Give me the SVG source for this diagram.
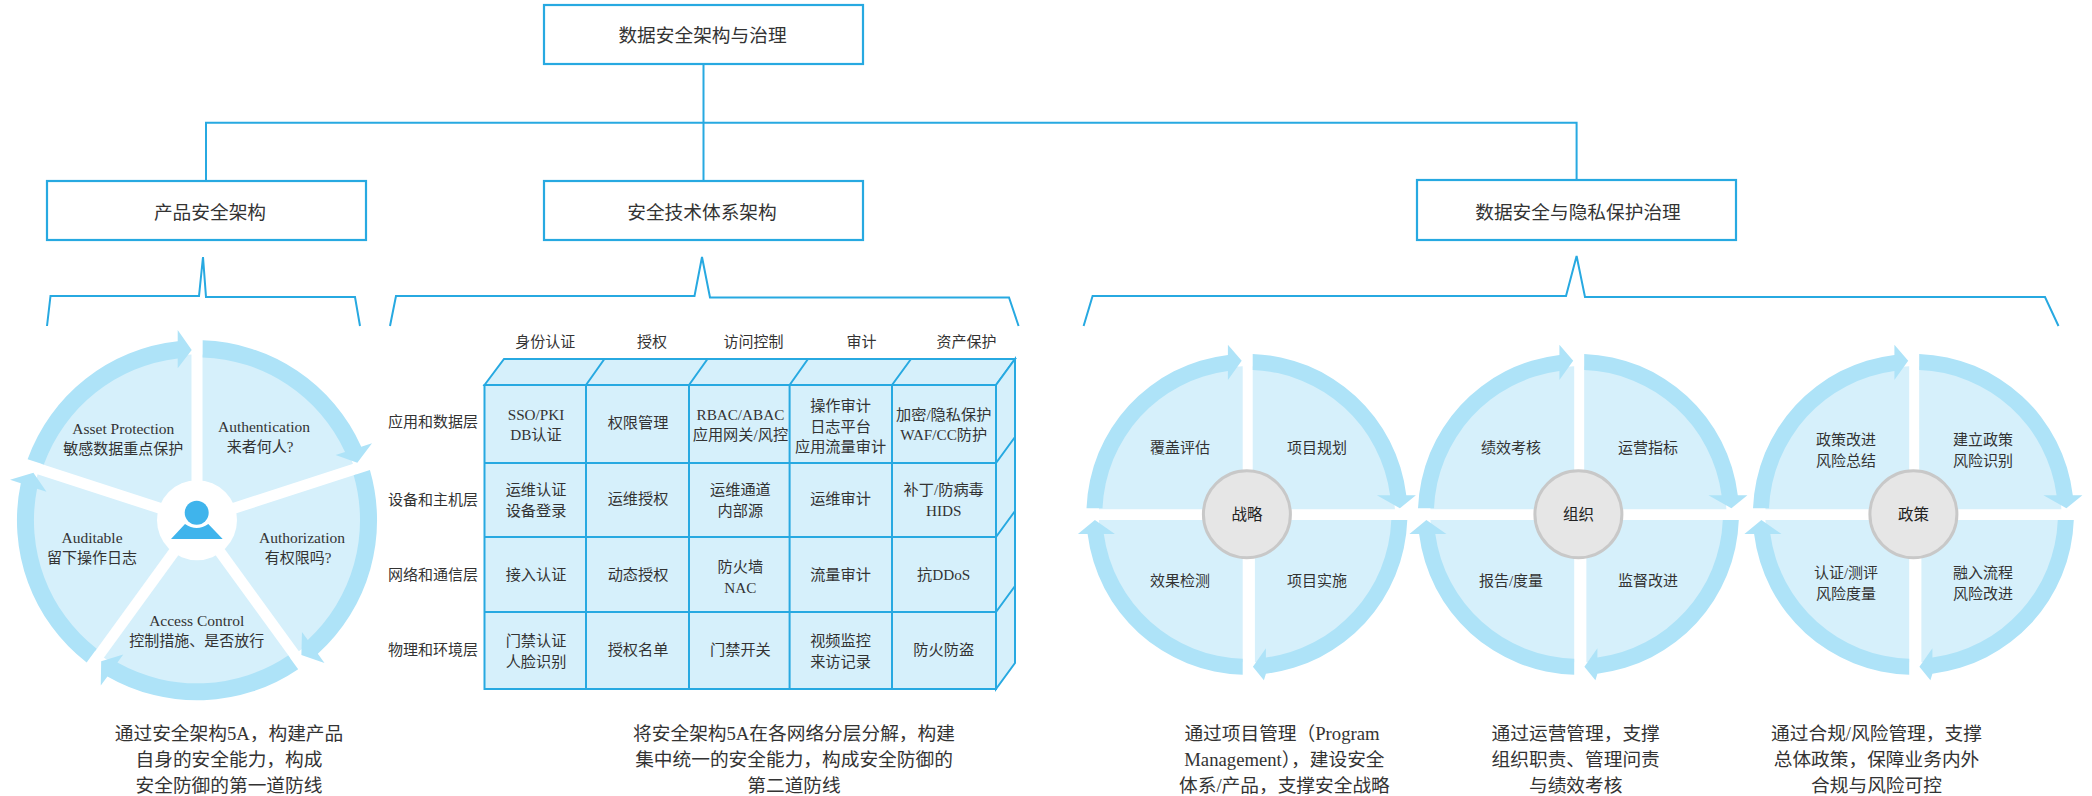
<svg xmlns="http://www.w3.org/2000/svg" xmlns:xlink="http://www.w3.org/1999/xlink" width="2092" height="796" viewBox="0 0 2092 796">
<style>
text{font-family:"Liberation Serif","Noto Sans CJK SC",serif;fill:#333;text-anchor:middle;dominant-baseline:central}
.t18{font-size:18.7px}.t15{font-size:15px}.t153{font-size:15.2px}.t155{font-size:15.5px}
.box{fill:#fff;stroke:#27a9e1;stroke-width:2.2}
.line{fill:none;stroke:#27a9e1;stroke-width:2}
.cell{fill:#d6f0fb;stroke:#27a9e1;stroke-width:2}
.soft{fill:#d6f0fb}.band{fill:#aee3f8}
.hub{fill:#e6e6e6;stroke:#c8c8c8;stroke-width:3}
.hubt{font-size:15.5px;fill:#222}
</style>
<defs>
<g id="wheel4">
<path class="soft" d="M5.8,-5L5.8,-148A148,148 0 0 1 148,-5Z"/>
<path class="soft" d="M-4.2,-5L-4.2,-148A148,148 0 0 0 -148,-5Z"/>
<path class="soft" d="M-4.2,5.7L-4.2,148A148,148 0 0 1 -148,5.7Z"/>
<path class="soft" d="M8,5.7L8,148A148,148 0 0 0 148,5.7Z"/>
<path class="band" d="M5.8,-160.4A160.5,160.5 0 0 1 159.4,-19L169,-19L153,-6L130,-19L143.2,-19A144.5,144.5 0 0 0 5.8,-144.4Z"/>
<path class="band" d="M-160.4,-6A160.5,160.5 0 0 1 -19,-159.4L-19,-169.5L-5.2,-153.6L-19,-134.3L-19,-143.2A144.5,144.5 0 0 0 -144.4,-6Z"/>
<path class="band" d="M-4.2,160.4A160.5,160.5 0 0 1 -159.3,19.7L-169,19.7L-152,5.7L-132,19.7L-143.1,19.7A144.5,144.5 0 0 0 -4.2,144.4Z"/>
<path class="band" d="M160.4,5.7A160.5,160.5 0 0 1 19,159.4L17,166L6,152.4L19,134L19,143.2A144.5,144.5 0 0 0 144.4,5.7Z"/>
<circle class="hub" r="43.5"/>
</g>
<path id="sector5" class="band" d="M-169.4,-61A180,180 0 0 1 -19.3,-179L-19.3,-190.3L-5.3,-170.3L-19.3,-152L-19.3,-161.9A163,163 0 0 0 -153.2,-55.7Z"/>
</defs>

<g id="connectors">
<path class="line" d="M703.5,64V181M206,181V122.7H1576.6V180"/>
<path class="line" d="M47,326L50.5,296H199L203,257L206,297H355L360,326"/>
<path class="line" d="M390,326L396,296H694.5L702,257L710,297.5H1009L1018.6,326"/>
<path class="line" d="M1083.6,326L1092.6,296H1566L1576.6,256L1585,297H2045L2058.5,326"/>
</g>

<g id="node-root"><rect class="box" x="544" y="5" width="319" height="59"/><text class="t18" x="702.5" y="35.7">数据安全架构与治理</text></g>
<g id="node-product"><rect class="box" x="47" y="181" width="319" height="59"/><text class="t18" x="210" y="212">产品安全架构</text></g>
<g id="node-tech"><rect class="box" x="544" y="181" width="319" height="59"/><text class="t18" x="702" y="212">安全技术体系架构</text></g>
<g id="node-gov"><rect class="box" x="1417" y="180" width="319" height="60"/><text class="t18" x="1578" y="212.7">数据安全与隐私保护治理</text></g>

<g id="wheel-5a">
<circle class="soft" cx="197" cy="520.3" r="166"/>
<g transform="translate(197 520.3)" stroke="#fff" stroke-width="11">
<path d="M0,0V-192"/>
<path d="M0,0V-192" transform="rotate(72)"/>
<path d="M0,0V-192" transform="rotate(144)"/>
<path d="M0,0V-192" transform="rotate(216)"/>
<path d="M0,0V-192" transform="rotate(288)"/>
</g>
<g transform="translate(197 520.3)">
<use xlink:href="#sector5" href="#sector5"/>
<use xlink:href="#sector5" href="#sector5" transform="rotate(72)"/>
<use xlink:href="#sector5" href="#sector5" transform="rotate(144)"/>
<use xlink:href="#sector5" href="#sector5" transform="rotate(216)"/>
<use xlink:href="#sector5" href="#sector5" transform="rotate(288)"/>
<circle r="40" fill="#fff"/>
</g>
<circle cx="196.7" cy="512.7" r="12" fill="#3fb4ec"/>
<path d="M171,539L185,524Q196.7,532 208.3,524L222.7,539Z" fill="#3fb4ec"/>
<text class="t155" x="123.3" y="428">Asset Protection</text><text class="t15" x="123.3" y="449">敏感数据重点保护</text>
<text class="t155" x="264" y="426">Authentication</text><text class="t15" x="260" y="446.7">来者何人?</text>
<text class="t155" x="302" y="537">Authorization</text><text class="t15" x="298" y="557.7">有权限吗?</text>
<text class="t155" x="196.7" y="620">Access Control</text><text class="t15" x="196.7" y="640.7">控制措施、是否放行</text>
<text class="t155" x="92" y="537">Auditable</text><text class="t15" x="92" y="557.7">留下操作日志</text>
</g>

<g id="grid-5a">
<path class="cell" d="M484.5,385L504,359H1015L996,385Z"/>
<path class="cell" d="M996,385L1015,359V663L996,689Z"/>
<path class="line" d="M586,385L604.4,359M689,385L707.5,359M789.6,385L808,359M892,385L911,359M996,463L1015,437M996,537L1015,511M996,612L1015,586"/>
<rect class="cell" x="484.5" y="385" width="511.5" height="304"/>
<path class="line" d="M586,385V689M689,385V689M789.6,385V689M892,385V689M484.5,463H996M484.5,537H996M484.5,612H996"/>
<g class="t15">
<text x="545.3" y="342">身份认证</text><text x="652" y="342">授权</text><text x="753.4" y="342">访问控制</text><text x="861.6" y="342">审计</text><text x="966.4" y="342">资产保护</text>
<text x="433" y="421.7">应用和数据层</text><text x="433" y="500">设备和主机层</text><text x="433" y="575">网络和通信层</text><text x="433" y="650">物理和环境层</text>
</g>
<g class="t153">
<text x="536" y="414">SSO/PKI</text><text x="536" y="434.7">DB认证</text>
<text x="638" y="422.7">权限管理</text>
<text x="740.4" y="414">RBAC/ABAC</text><text x="740.4" y="434.7">应用网关/风控</text>
<text x="840.5" y="405">操作审计</text><text x="840.5" y="426">日志平台</text><text x="840.5" y="446.7">应用流量审计</text>
<text x="943.7" y="414">加密/隐私保护</text><text x="943.7" y="434.7">WAF/CC防护</text>
<text x="536" y="489.3">运维认证</text><text x="536" y="510.7">设备登录</text>
<text x="638" y="498.7">运维授权</text>
<text x="740.4" y="489.3">运维通道</text><text x="740.4" y="510.7">内部源</text>
<text x="840.5" y="498.7">运维审计</text>
<text x="943.7" y="489.3">补丁/防病毒</text><text x="943.7" y="510.7">HIDS</text>
<text x="536" y="574.7">接入认证</text>
<text x="638" y="574.7">动态授权</text>
<text x="740.4" y="566">防火墙</text><text x="740.4" y="587.3">NAC</text>
<text x="840.5" y="574.7">流量审计</text>
<text x="943.7" y="574.7">抗DDoS</text>
<text x="536" y="640">门禁认证</text><text x="536" y="661.7">人脸识别</text>
<text x="638" y="649.3">授权名单</text>
<text x="740.4" y="649.3">门禁开关</text>
<text x="840.5" y="640">视频监控</text><text x="840.5" y="661.7">来访记录</text>
<text x="943.7" y="649.3">防火防盗</text>
</g>
</g>

<g id="wheel-strategy" class="t15">
<use xlink:href="#wheel4" href="#wheel4" x="1246.9" y="514.3"/>
<text class="hubt" x="1246.9" y="514.3">战略</text>
<text x="1180" y="448">覆盖评估</text><text x="1317" y="448">项目规划</text>
<text x="1180" y="581">效果检测</text><text x="1317" y="581">项目实施</text>
</g>
<g id="wheel-org" class="t15">
<use xlink:href="#wheel4" href="#wheel4" x="1578.4" y="514.3"/>
<text class="hubt" x="1578.4" y="514.3">组织</text>
<text x="1511" y="448">绩效考核</text><text x="1648" y="448">运营指标</text>
<text x="1511" y="581">报告/度量</text><text x="1648" y="581">监督改进</text>
</g>
<g id="wheel-policy" class="t15">
<use xlink:href="#wheel4" href="#wheel4" x="1913.4" y="514.3"/>
<text class="hubt" x="1913.4" y="514.3">政策</text>
<text x="1846" y="440">政策改进</text><text x="1846" y="460.7">风险总结</text>
<text x="1983" y="440">建立政策</text><text x="1983" y="460.7">风险识别</text>
<text x="1846" y="572.7">认证/测评</text><text x="1846" y="594">风险度量</text>
<text x="1983" y="572.7">融入流程</text><text x="1983" y="594">风险改进</text>
</g>

<g id="captions" class="t18">
<text x="229" y="733">通过安全架构5A，构建产品</text><text x="229" y="759">自身的安全能力，构成</text><text x="229" y="785">安全防御的第一道防线</text>
<text x="794" y="733">将安全架构5A在各网络分层分解，构建</text><text x="794" y="759">集中统一的安全能力，构成安全防御的</text><text x="794" y="785">第二道防线</text>
<text x="1282" y="733">通过项目管理（Program</text><text x="1284.4" y="759">Management），建设安全</text><text x="1284.4" y="785">体系/产品，支撑安全战略</text>
<text x="1575.7" y="733">通过运营管理，支撑</text><text x="1575.7" y="759">组织职责、管理问责</text><text x="1575.7" y="785">与绩效考核</text>
<text x="1876.5" y="733">通过合规/风险管理，支撑</text><text x="1876.5" y="759">总体政策，保障业务内外</text><text x="1876.5" y="785">合规与风险可控</text>
</g>
</svg>
